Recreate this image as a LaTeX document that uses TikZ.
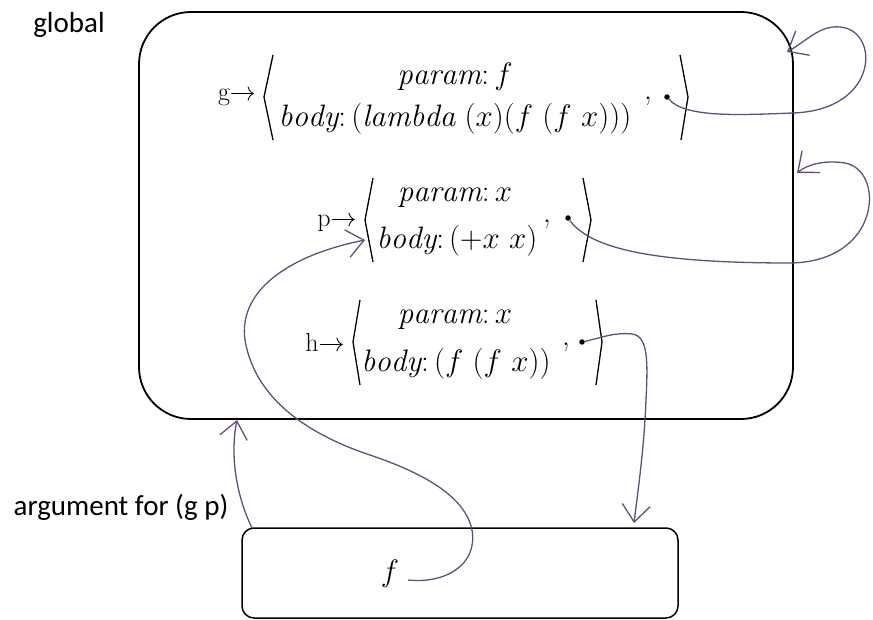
\documentclass[tikz,border=0pt]{standalone}
\usepackage{fix-cm}
\usepackage{fontspec}
\newfontfamily\labelfont{Carlito}
\usetikzlibrary{arrows.meta}
\definecolor{ptrcol}{RGB}{98,78,124}
\begin{document}
\begin{tikzpicture}[x=1pt,y=-1pt,
  frame/.style={draw=black, line width=1.8pt},
  brk/.style={draw=black, line width=1.3pt, line join=round},
  ptr/.style={draw=ptrcol, line width=1.3pt, -{Straight Barb[length=17pt,width=28pt,line width=1.3pt]}},
  lbl/.style={inner sep=0pt, font=\labelfont\fontsize{29}{32}\selectfont},
  mth/.style={inner sep=0pt, font=\fontsize{31}{34}\selectfont},
  nm/.style={inner sep=0pt, font=\fontsize{26}{28}\selectfont},
  dotn/.style={circle, fill=black, inner sep=0pt, minimum size=5.5pt},
]
\useasboundingbox (0,0) rectangle (873,620);

% labels
\node[lbl] (glob) at (69,25) {global};
\node[lbl] (arglbl) at (121,507) {argument for (g p)};

% environments
\node[frame, rounded corners=52pt, minimum width=654pt, minimum height=407pt] (genv) at (466,215.5) {};
\node[frame, line width=1.5pt, rounded corners=12pt, minimum width=436pt, minimum height=90pt] (argbox) at (460,573) {};
\node[mth] (fvar) at (390,574) {$f$};

% g closure
\node[nm] (gname) at (237,97) {g$\rightarrow$};
\draw[brk] (273,55) -- (264,97) -- (273,140);
\node[mth] (gparam) at (455,77) {$\mathit{param}\colon f$};
\node[mth] (gbody) at (455,119) {$\mathit{body}\colon(\mathit{lambda}\ (x)\big(f\ (f\ x)\big))$};
\node[mth] (gcomma) at (648,101) {,};
\node[dotn] (gdot) at (667,97) {};
\draw[brk] (680,55) -- (688,97) -- (681,140);

% p closure
\node[nm] (pname) at (337,223) {p$\rightarrow$};
\draw[brk] (373,178) -- (365,220) -- (373,262);
\node[mth] (pparam) at (455,198) {$\mathit{param}\colon x$};
\node[mth] (pbody) at (457,241) {$\mathit{body}\colon(+x\ x)$};
\node[mth] (pcomma) at (547,224) {,};
\node[dotn] (pdot) at (568,218) {};
\draw[brk] (583,178) -- (591,220) -- (583,262);

% h closure
\node[nm] (hname) at (325,342) {h$\rightarrow$};
\draw[brk] (360,300) -- (353,342) -- (360,385);
\node[mth] (hparam) at (455,320) {$\mathit{param}\colon x$};
\node[mth] (hbody) at (456,364) {$\mathit{body}\colon(f\ (f\ x))$};
\node[mth] (hcomma) at (566,347) {,};
\node[dotn] (hdot) at (582,342) {};
\draw[brk] (596,300) -- (602,342) -- (596,385);

% pointer ends
\coordinate (gin) at (787,52);
\coordinate (pin) at (797,173);
\coordinate (hout) at (634,523);
\coordinate (fstart) at (408,580);
\coordinate (pbr) at (365,240);
\coordinate (astart) at (252,528);
\coordinate (genvin) at (237,420);

% pointers
\draw[ptr] (gdot) .. controls (685,118) and (740,115) .. (793,113)
  .. controls (880,110) and (880,30) .. (840,27)
  .. controls (820,25) and (808,40) .. (gin);
\draw[ptr] (pdot) .. controls (590,248) and (650,263) .. (790,263)
  .. controls (882,262) and (885,170) .. (845,163)
  .. controls (825,160) and (808,164) .. (pin);
\draw[ptr] (hdot) .. controls (600,338) and (615,332) .. (632,334)
  .. controls (648,336) and (648,360) .. (646,400)
  .. controls (644,450) and (638,490) .. (hout);
\draw[ptr] (fstart) .. controls (445,584) and (478,565) .. (472,530)
  .. controls (465,495) and (420,472) .. (370,455)
  .. controls (310,435) and (255,400) .. (245,340)
  .. controls (238,290) and (290,255) .. (pbr);
\draw[ptr] (astart) .. controls (236,495) and (230,455) .. (genvin);
\end{tikzpicture}
\end{document}
